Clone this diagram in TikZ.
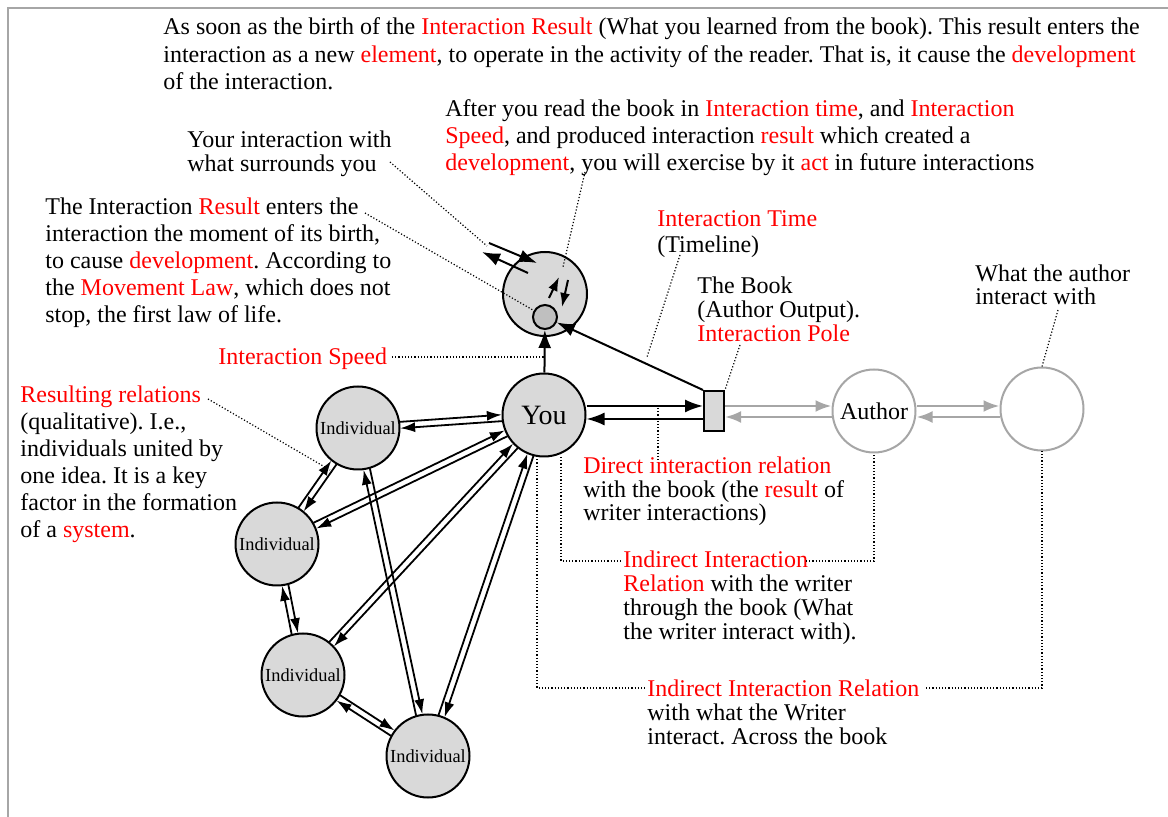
\documentclass[tikz,border=0pt]{standalone}
\usepackage{fontspec}
\setmainfont{Liberation Serif}
\usetikzlibrary{arrows.meta,calc}
\newcommand{\rd}[1]{\textcolor{red}{#1}}
\frenchspacing

\begin{document}
\begin{tikzpicture}[x=0.5pt,y=-0.5pt,
  >={Latex[length=9pt,width=6.5pt]},
  ball/.style={circle,draw,line width=1pt,fill=gray!30,minimum size=41.5pt,inner sep=0pt},
  txt/.style={anchor=base west,align=left,inner sep=0pt,font=\fontsize{12}{13.5}\selectfont},
  tight/.style={txt,font=\fontsize{12}{12}\selectfont},
  dot/.style={densely dotted,line width=0.6pt},
  arr/.style={->,line width=1pt},
  pair/.style={->,line width=0.9pt,shorten <=21pt,shorten >=21pt,>={Latex[length=7.5pt,width=5pt]}},
  garr/.style={->,draw=gray!70,line width=1.3pt,>={Latex[length=8pt,width=6pt]}}
]
\useasboundingbox (0,0) rectangle (1168,817);
\draw[gray!70,line width=1pt] (8,817) -- (8,8) -- (1168,8);

% the nodes
\node[ball,font=\fontsize{14}{14}\selectfont] (you) at (544,415) {You};
\node[ball,minimum size=42pt] (top) at (545,294) {};
\node[circle,draw,line width=1pt,fill=gray!50,minimum size=12pt,inner sep=0pt] (res) at (545,317) {};
\node[draw,line width=1pt,fill=gray!30,minimum width=10pt,minimum height=20pt,inner sep=0pt] (book) at (714,411) {};
\node[ball,draw=gray!70,fill=white,font=\fontsize{12}{12}\selectfont] (author) at (874,411) {Author};
\node[ball,draw=gray!70,fill=white] (world) at (1042,409) {};
\foreach \n/\p in {i1/{358,428},i2/{277,544},i3/{303,675},i4/{428,756}}
  \node[ball,font=\fontsize{9.2}{10}\selectfont] (\n) at (\p) {Individual};

% the texts (placed at the baseline of their last line)
\node[txt,font=\fontsize{12}{13.75}\selectfont] (birthtxt) at (163,90) {As soon as the birth of the \rd{Interaction Result} (What you learned from the book). This result enters the\\interaction as a new \rd{element}, to operate in the activity of the reader. That is, it cause the \rd{development}\\of the interaction.};
\node[txt] (aftertxt) at (445,171) {After you read the book in \rd{Interaction time}, and \rd{Interaction}\\\rd{Speed}, and produced interaction \rd{result} which created a\\\rd{development}, you will exercise by it \rd{act} in future interactions};
\node[tight] (surrtxt) at (187,172) {Your interaction with\\what surrounds you};
\node[txt] (lawtxt) at (45,323) {The Interaction \rd{Result} enters the\\interaction the moment of its birth,\\to cause \rd{development}. According to\\the \rd{Movement Law}, which does not\\stop, the first law of life.};
\node[txt] (speedtxt) at (218,365) {\rd{Interaction Speed}};
\node[txt] (reltxt) at (20,538) {\rd{Resulting relations}\\(qualitative). I.e.,\\individuals united by\\one idea. It is a key\\factor in the formation\\of a \rd{system}.};
\node[txt,font=\fontsize{12}{13}\selectfont] (timetxt) at (657,253) {\rd{Interaction Time}\\(Timeline)};
\node[tight] (booktxt) at (697,342) {The Book\\(Author Output).\\\rd{Interaction Pole}};
\node[tight,font=\fontsize{12}{11.5}\selectfont] (worldtxt) at (975,305) {What the author\\interact with};
\node[tight,font=\fontsize{12}{11.75}\selectfont] (directtxt) at (583,521) {\rd{Direct interaction relation}\\with the book (the \rd{result} of\\writer interactions)};
\node[tight] (ind1txt) at (623,640) {\rd{Indirect Interaction}\\\rd{Relation} with the writer\\through the book (What\\the writer interact with).};
\node[tight] (ind2txt) at (647,745) {\rd{Indirect Interaction Relation}\\with what the Writer\\interact. Across the book};

% arrows round the result
\draw[arr] ($(top)+(-56,-51)$) -- ($(top)+(-8,-31)$);
\draw[arr] ($(top)+(-17,-21)$) -- ($(top)+(-63,-42)$);
\draw[arr,>={Latex[length=7pt,width=5pt]}] ($(top)+(4,4)$) -- ($(top)+(14,-17)$);
\draw[arr,>={Latex[length=7pt,width=5pt]}] ($(top)+(23,-14)$) -- ($(top)+(17,13)$);
\draw[arr] (you) -- (res);
\draw[arr] (book.north west) -- (res);

% you, book, author
\draw[arr] (you.east |- 0,406) -- (book.west |- 0,406);
\draw[arr] (book.west |- 0,419) -- (you.east |- 0,419);
\draw[garr] (book.east |- 0,406) -- (author.west |- 0,406);
\draw[garr] (author.west |- 0,417) -- (book.east |- 0,417);
\draw[garr] (author.east |- 0,406) -- (world.west |- 0,406);
\draw[garr] (world.west |- 0,417) -- (author.east |- 0,417);

% relations between individuals
\foreach \a/\b in {i1/you,i2/you,i3/you,i4/you,i1/i2,i1/i4,i2/i3,i3/i4}{
  \draw[pair] ($(\a.center)!1.6pt!90:(\b.center)$) -- ($(\b.center)!1.6pt!-90:(\a.center)$);
  \draw[pair] ($(\b.center)!1.6pt!90:(\a.center)$) -- ($(\a.center)!1.6pt!-90:(\b.center)$);
}

% dotted leaders
\draw[dot] (390,162) -- (487,246);
\draw[dot] (365,213) -- (res);
\draw[dot] (585,172) -- ($(top)+(18,-27)$);
\draw[dot] (392,357) -- (you.north |- 0,357);
\draw[dot] (208,399) -- (330,470);
\draw[dot] (680,255) -- (647,357);
\draw[dot] (740,345) -- (book.north east);
\draw[dot] (1058,310) -- (world.north);
\draw[dot] (658,408) -- (658,462);
\draw[dot] (561,457) |- (623,561);
\draw[dot] (806,561) -| (author.south);
\draw[dot] (537,456) |- (645,688);
\draw[dot] (926,688) -| (world.south);
\end{tikzpicture}
\end{document}
